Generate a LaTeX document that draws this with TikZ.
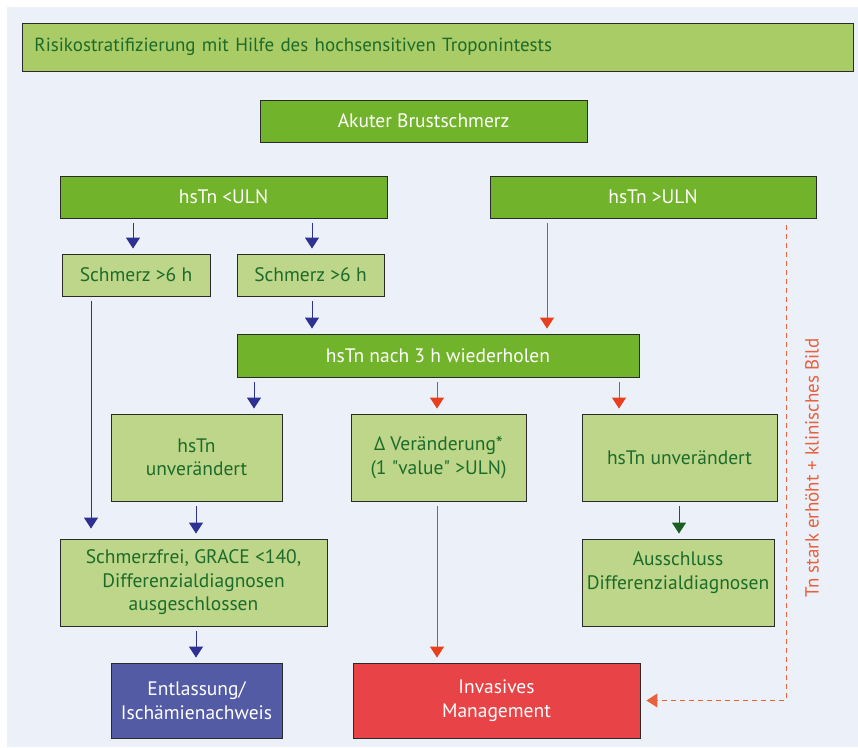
\documentclass[tikz,border=0pt]{standalone}
\usepackage{fontspec}
\setmainfont{PT Sans}
\newfontfamily\plainq{PT Sans}
\usetikzlibrary{arrows.meta}
\definecolor{bgc}{HTML}{ECF0F9}
\definecolor{titlefill}{HTML}{AACC67}
\definecolor{darkfill}{HTML}{71B42B}
\definecolor{lightfill}{HTML}{BDD689}
\definecolor{txtgreen}{HTML}{1C6B2A}
\definecolor{bluefill}{HTML}{545BA5}
\definecolor{redfill}{HTML}{E84346}
\definecolor{navy}{HTML}{2E3191}
\definecolor{arrred}{HTML}{E8401E}
\definecolor{arrgreen}{HTML}{1A5E20}
\definecolor{dashred}{HTML}{E8603C}
\definecolor{bordc}{HTML}{2A2A2A}
\tikzset{
  box/.style={draw=bordc, line width=0.9pt, align=center, inner sep=2pt, font=\fontsize{19.5}{23.5}\selectfont},
  darkbox/.style={box, fill=darkfill, text=white},
  lightbox/.style={box, fill=lightfill, text=txtgreen},
  tip/.style={-{Triangle[length=11pt,width=14pt]}},
  arr/.style={tip, line width=1pt, shorten <=5pt, shorten >=5pt},
  barr/.style={arr, draw=navy},
  rarr/.style={arr, draw=arrred},
  garr/.style={arr, draw=arrgreen},
}
\begin{document}
\begin{tikzpicture}[x=1pt,y=-1pt]
\useasboundingbox (0,0) rectangle (858,747);
\fill[white] (0,0) rectangle (858,747);
\fill[bgc] (7,7) rectangle (858,747);
% title
\node[box, fill=titlefill, text=txtgreen, anchor=west, minimum height=48pt, text width=807pt, inner xsep=12pt, align=left, font=\fontsize{19}{22}\selectfont] (title) at (22,47) {Risikostratifizierung mit Hilfe des hochsensitiven Troponintests};
% boxes
\node[darkbox, minimum width=327pt, minimum height=42pt] (akut) at (423.5,121) {Akuter Brustschmerz};
\node[darkbox, minimum width=327pt, minimum height=42pt] (lo) at (223.5,197) {hsTn <ULN};
\node[darkbox, minimum width=326pt, minimum height=42pt] (hi) at (653,197) {hsTn >ULN};
\node[lightbox, minimum width=148pt, minimum height=42pt] (s1) at (136,275) {Schmerz >6 h};
\node[lightbox, minimum width=147pt, minimum height=42pt] (s2) at (310.5,275) {Schmerz >6 h};
\node[darkbox, minimum width=402pt, minimum height=43pt] (rep) at (438,355.5) {hsTn nach 3 h wiederholen};
\node[lightbox, minimum width=171pt, minimum height=87pt] (u1) at (196.5,457.5) {hsTn\\unverändert};
\node[lightbox, minimum width=175pt, minimum height=87pt] (d) at (438.5,457.5) {Δ Veränderung*\\(1 {\plainq"}value{\plainq"} >ULN)};
\node[lightbox, minimum width=195pt, minimum height=87pt] (u2) at (679.5,457.5) {hsTn unverändert};
\node[lightbox, minimum width=267pt, minimum height=87pt] (sf) at (193.5,582.5) {Schmerzfrei, GRACE <140,\\Differenzialdiagnosen\\ausgeschlossen};
\node[lightbox, minimum width=192pt, minimum height=87pt] (aus) at (678,582.5) {Ausschluss\\Differenzialdiagnosen\\\mbox{}};
\node[box, fill=bluefill, text=white, minimum width=171pt, minimum height=75pt] (ent) at (196.5,700.5) {Entlassung/\\Ischämienachweis};
\node[box, fill=redfill, text=white, minimum width=287pt, minimum height=75pt] (inv) at (496.5,700.5) {Invasives\\Management};
% helper coordinates
\coordinate (xa) at (133,0);
\coordinate (xb) at (312,0);
\coordinate (xc) at (547,0);
\coordinate (xd) at (254,0);
\coordinate (xe) at (437,0);
\coordinate (xf) at (619,0);
\coordinate (xg) at (91,0);
\coordinate (xh) at (196,0);
\coordinate (xi) at (679,0);
\coordinate (xj) at (786,0);
% arrows
\draw[barr] (lo.south -| xa) -- (s1.north -| xa);
\draw[barr] (lo.south -| xb) -- (s2.north -| xb);
\draw[barr] (s2.south -| xb) -- (rep.north -| xb);
\draw[rarr] (hi.south -| xc) -- (rep.north -| xc);
\draw[barr] (rep.south -| xd) -- (u1.north -| xd);
\draw[rarr] (rep.south -| xe) -- (d.north -| xe);
\draw[rarr] (rep.south -| xf) -- (u2.north -| xf);
\draw[barr, shorten >=10pt] (s1.south -| xg) -- (sf.north -| xg);
\draw[barr] (u1.south -| xh) -- (sf.north -| xh);
\draw[barr] (sf.south -| xh) -- (ent.north -| xh);
\draw[rarr] (d.south -| xe) -- (inv.north -| xe);
\draw[garr] (u2.south -| xi) -- (aus.north -| xi);
\draw[tip, draw=dashred, line width=1pt, dash pattern=on 5pt off 4pt, shorten <=7pt, shorten >=6pt] (hi.south -| xj) |- (inv.east);
\node[text=dashred, rotate=90, font=\fontsize{19}{22}\selectfont] (lbl) at (812,468) {Tn stark erhöht + klinisches Bild};
\end{tikzpicture}
\end{document}
